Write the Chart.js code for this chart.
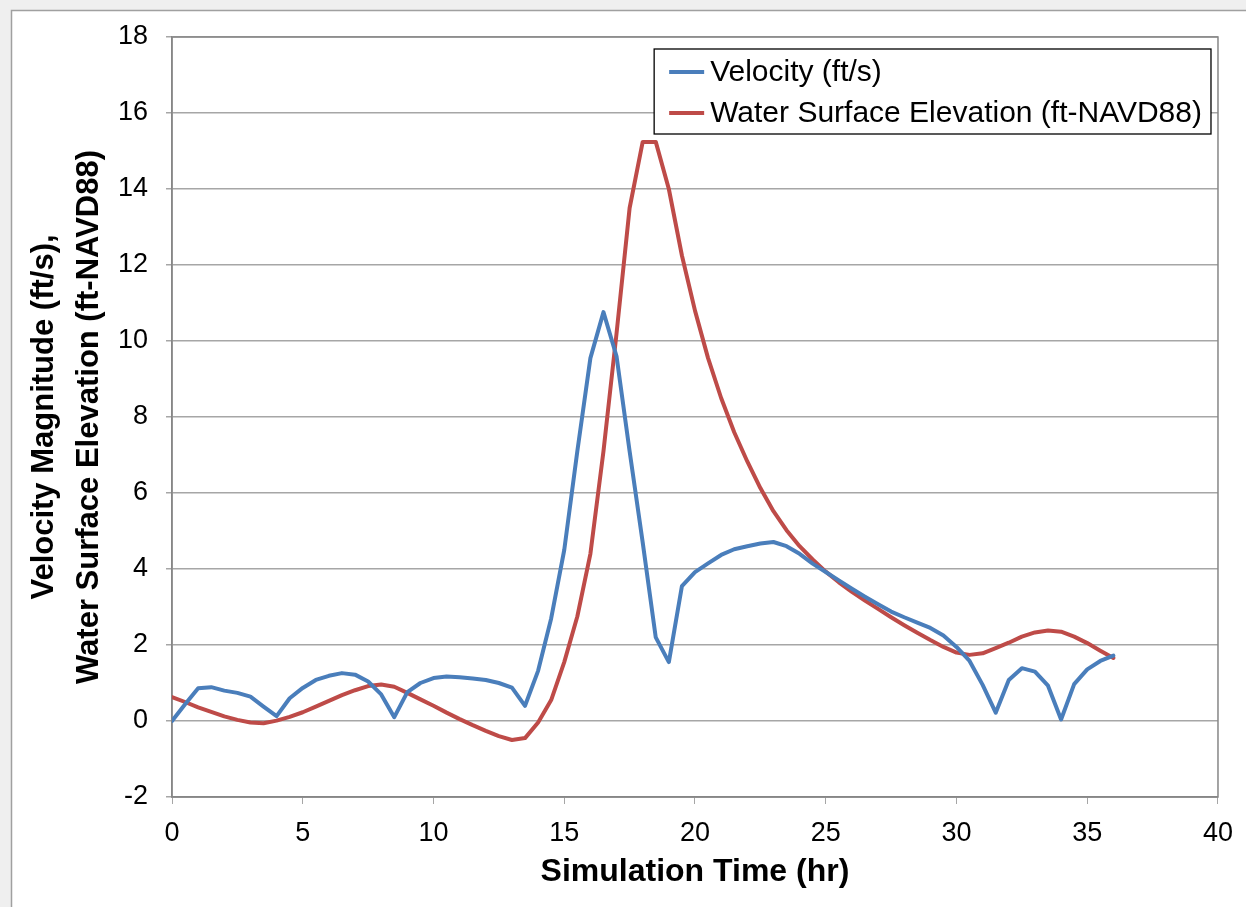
<!DOCTYPE html>
<html>
<head>
<meta charset="utf-8">
<script src="https://cdn.jsdelivr.net/npm/chart.js@4.4.1/dist/chart.umd.min.js"></script>
<style>
  html, body { margin: 0; padding: 0; background: #fff; }
  #wrap { width: 1246px; height: 907px; }
</style>
</head>
<body>
<div id="wrap"><canvas id="chart" width="1246" height="907"></canvas></div>
<script>
// simulation time (hr), every half hour
const times = [0,0.5,1,1.5,2,2.5,3,3.5,4,4.5,5,5.5,6,6.5,7,7.5,8,8.5,9,9.5,10,10.5,11,11.5,12,12.5,13,13.5,14,14.5,15,15.5,16,16.5,17,17.5,18,18.5,19,19.5,20,20.5,21,21.5,22,22.5,23,23.5,24,24.5,25,25.5,26,26.5,27,27.5,28,28.5,29,29.5,30,30.5,31,31.5,32,32.5,33,33.5,34,34.5,35,35.5,36];
const velocity = [0.00,0.44,0.86,0.89,0.80,0.74,0.64,0.38,0.13,0.60,0.87,1.08,1.19,1.26,1.22,1.04,0.70,0.10,0.76,1.00,1.13,1.17,1.15,1.12,1.08,1.00,0.88,0.40,1.32,2.70,4.50,7.10,9.55,10.76,9.60,7.10,4.70,2.20,1.55,3.55,3.92,4.15,4.37,4.52,4.60,4.67,4.71,4.60,4.40,4.14,3.92,3.70,3.48,3.27,3.07,2.88,2.73,2.59,2.45,2.25,1.95,1.58,0.95,0.22,1.08,1.39,1.30,0.93,0.04,0.97,1.36,1.58,1.72];
const wse = [0.63,0.50,0.36,0.24,0.12,0.03,-0.04,-0.06,0.01,0.11,0.23,0.38,0.53,0.68,0.81,0.92,0.96,0.90,0.74,0.57,0.40,0.22,0.05,-0.11,-0.26,-0.40,-0.50,-0.45,-0.04,0.55,1.55,2.75,4.40,7.10,10.20,13.50,15.24,15.24,14.00,12.25,10.80,9.55,8.50,7.60,6.83,6.13,5.52,5.02,4.60,4.25,3.93,3.65,3.40,3.17,2.95,2.73,2.52,2.32,2.13,1.95,1.80,1.74,1.78,1.92,2.06,2.22,2.33,2.38,2.35,2.22,2.05,1.85,1.66];
const seriesNames = ['Velocity (ft/s)', 'Water Surface Elevation (ft-NAVD88)'];
const seriesColors = ['#4a7ebb', '#be4b48'];
const xTitle = 'Simulation Time (hr)';
const yTitle = ['Velocity Magnitude (ft/s),', 'Water Surface Elevation (ft-NAVD88)'];

const FONT = "'Liberation Sans', Arial, sans-serif";
Chart.defaults.font.family = FONT;
Chart.defaults.color = '#000';

function pts(ys) { return times.map((t, i) => ({ x: t, y: ys[i] })); }

const frame = {
  id: 'frame',
  beforeDraw(chart) {
    const ctx = chart.ctx;
    ctx.save();
    ctx.fillStyle = '#efefef';
    ctx.fillRect(0, 0, chart.width, chart.height);
    ctx.fillStyle = '#fff';
    ctx.fillRect(11, 10, chart.width - 11, chart.height - 10);
    ctx.strokeStyle = '#a0a0a0';
    ctx.lineWidth = 1.5;
    ctx.beginPath();
    ctx.moveTo(11.5, chart.height); ctx.lineTo(11.5, 10.5); ctx.lineTo(chart.width, 10.5);
    ctx.stroke();
    ctx.restore();
  },
  beforeDatasetsDraw(chart) {
    const a = chart.chartArea, ctx = chart.ctx;
    ctx.save();
    ctx.strokeStyle = '#868686';
    ctx.lineWidth = 1.5;
    ctx.strokeRect(a.left, a.top, a.right - a.left, a.bottom - a.top);
    ctx.restore();
  }
};

const boxLegend = {
  id: 'boxLegend',
  afterDraw(chart) {
    const ctx = chart.ctx, a = chart.chartArea;
    const ds = chart.data.datasets;
    ctx.save();
    ctx.font = '30px ' + FONT;
    const textW = Math.max(...ds.map(d => ctx.measureText(d.label).width));
    const padL = 15, sample = 35, gap = 6, padR = 9, rowH = 41;
    const right = a.right - 7, top = a.top + 12;
    const w = padL + sample + gap + textW + padR, h = 85;
    const left = right - w;
    ctx.fillStyle = '#fff';
    ctx.fillRect(left, top, w, h);
    ctx.strokeStyle = '#000';
    ctx.lineWidth = 1.3;
    ctx.strokeRect(left, top, w, h);
    ds.forEach((d, i) => {
      const y = top + 23 + i * rowH;
      ctx.strokeStyle = d.borderColor;
      ctx.lineWidth = 4;
      ctx.beginPath();
      ctx.moveTo(left + padL, y); ctx.lineTo(left + padL + sample, y);
      ctx.stroke();
      ctx.fillStyle = '#000';
      ctx.textBaseline = 'middle';
      ctx.fillText(d.label, left + padL + sample + gap, y + 1);
    });
    ctx.restore();
  }
};

new Chart(document.getElementById('chart').getContext('2d'), {
  type: 'line',
  data: {
    datasets: [velocity, wse].map((ys, i) => ({
      label: seriesNames[i],
      data: pts(ys),
      borderColor: seriesColors[i],
      backgroundColor: seriesColors[i],
      borderWidth: 4,
      pointRadius: 0,
      tension: 0,
      borderJoinStyle: 'round',
      borderCapStyle: 'round',
      fill: false
    }))
  },
  options: {
    responsive: false,
    animation: false,
    layout: { padding: { top: 37, right: 21, left: 0, bottom: 0 } },
    plugins: { legend: { display: false }, tooltip: { enabled: false } },
    scales: {
      x: {
        type: 'linear', min: 0, max: 40,
        ticks: { stepSize: 5, font: { size: 27 }, padding: 13, maxRotation: 0, color: '#000' },
        grid: { drawOnChartArea: false, tickLength: 7, tickColor: '#a6a6a6' },
        border: { color: '#868686', width: 1.5 },
        title: { display: true, text: xTitle, color: '#000', font: { size: 32, weight: 'bold' }, padding: { top: 0, bottom: 16 } },
        afterFit(s) { s.height = 110; }
      },
      y: {
        min: -2, max: 18,
        ticks: { stepSize: 2, font: { size: 27 }, padding: 18, color: '#000' },
        grid: { color: '#a6a6a6', lineWidth: 1.5, tickLength: 6, tickColor: '#a6a6a6' },
        border: { color: '#868686', width: 1.5 },
        title: { display: true, text: yTitle, color: '#000', font: { size: 31, weight: 'bold', lineHeight: 45 / 31 }, padding: { top: 22, bottom: 0 } },
        afterFit(s) { s.width = 172; }
      }
    }
  },
  plugins: [frame, boxLegend]
});
</script>
</body>
</html>
